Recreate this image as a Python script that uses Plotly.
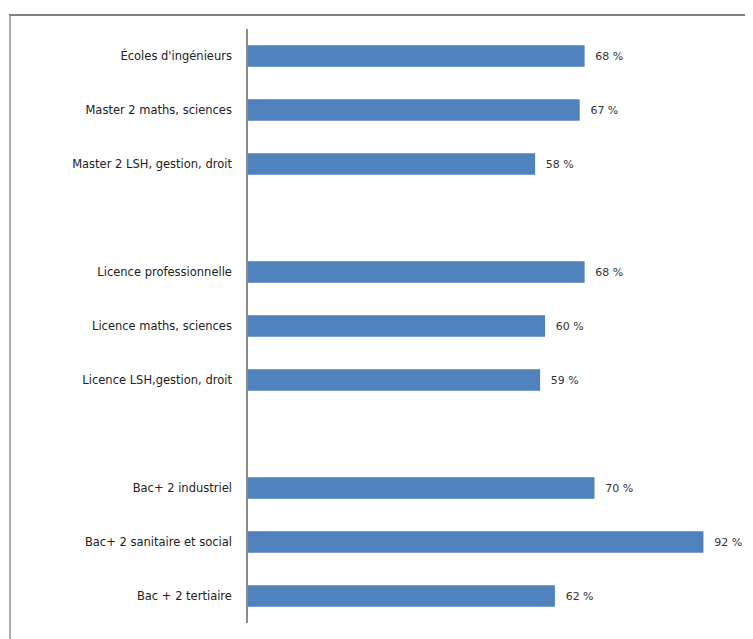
import plotly.graph_objects as go

categories = [
    "Écoles d'ingénieurs",
    "Master 2 maths, sciences",
    "Master 2 LSH, gestion, droit",
    " ",
    "Licence professionnelle",
    "Licence maths, sciences",
    "Licence LSH,gestion, droit",
    "  ",
    "Bac+ 2 industriel",
    "Bac+ 2 sanitaire et social",
    "Bac + 2 tertiaire",
]
values = [68, 67, 58, None, 68, 60, 59, None, 70, 92, 62]
labels = ["" if v is None else "\u2002\u2009%d %%" % v for v in values]

fig = go.Figure(go.Bar(
    x=values, y=categories, orientation="h",
    marker=dict(color="#4F81BD", line=dict(width=0)),
    text=labels, textposition="outside", cliponaxis=False,
    textfont=dict(family="DejaVu Sans", size=11, color="#333333"),
    width=0.4,
))

fig.update_layout(
    width=753, height=639,
    margin=dict(l=240, r=13, t=21, b=24),
    paper_bgcolor="white", plot_bgcolor="white",
    showlegend=False,
    font=dict(family="DejaVu Sans", size=12, color="#222222"),
    xaxis=dict(range=[0, 101], visible=False, showgrid=False, zeroline=False),
    yaxis=dict(
        categoryorder="array", categoryarray=categories, autorange="reversed",
        showline=True, linecolor="#8c8c8c", linewidth=1.5,
        showgrid=False, ticks="", ticklabelstandoff=12,
        tickfont=dict(family="DejaVu Sans", size=11.5, color="#222222"),
    ),
    shapes=[
        dict(type="line", xref="paper", yref="paper",
             x0=-0.478, x1=1.05, y0=1.0236, y1=1.0236,
             line=dict(color="#555555", width=1.5)),
        dict(type="line", xref="paper", yref="paper",
             x0=-0.476, x1=-0.476, y0=1.0236, y1=-0.05,
             line=dict(color="#9a9a9a", width=1.5)),
    ],
)

fig.write_html("out.html")
